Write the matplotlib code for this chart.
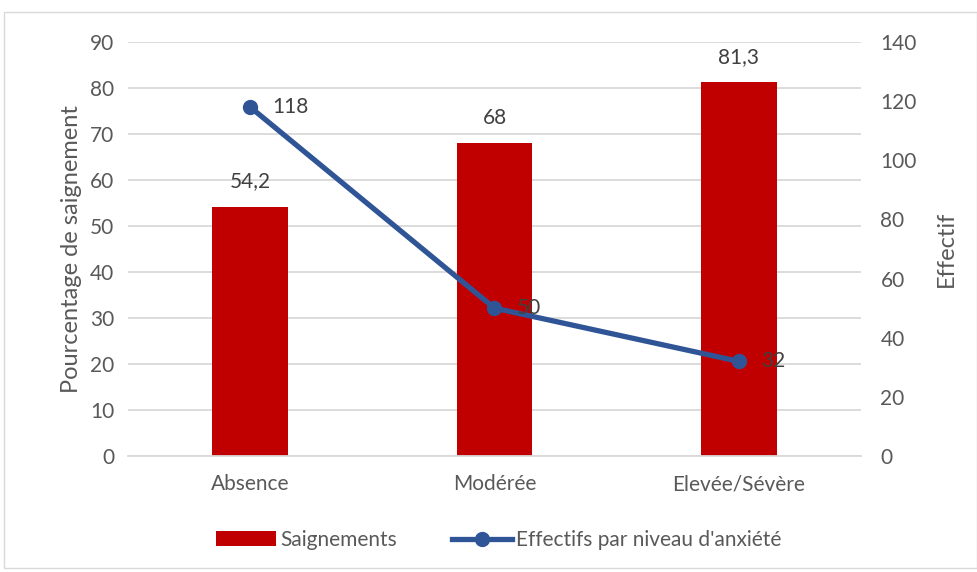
import matplotlib.pyplot as plt
from matplotlib.lines import Line2D
from matplotlib.patches import Patch, Rectangle

categories = ['Absence', 'Modérée', 'Elevée/Sévère']
saignements = [54.2, 68, 81.3]
effectifs = [118, 50, 32]
bar_labels = ['54,2', '68', '81,3']

plt.rcParams['font.family'] = ['Lato', 'DejaVu Sans']
txt = '#595959'
red = '#C00000'
blue = '#2F5597'
fs = 15

fig = plt.figure(figsize=(9.78, 5.72), dpi=100)
ax = fig.add_axes([128/978, 1 - 456/572, 733/978, 414/572])
ax2 = ax.twinx()

x = list(range(len(categories)))
ax.bar(x, saignements, width=0.31, color=red, zorder=2)
for xi, v, lab in zip(x, saignements, bar_labels):
    ax.text(xi, v + 3.3, lab, ha='center', va='bottom', fontsize=fs, color='#404040')

ax.set_xlim(-0.5, 2.5)
ax.set_ylim(0, 90)
ax.set_yticks(range(0, 91, 10))
ax.set_xticks(x)
ax.set_xticklabels(categories)
ax.yaxis.grid(True, color='#D9D9D9', linewidth=1.3, zorder=0)
ax.set_axisbelow(True)
ax.set_ylabel('Pourcentage de saignement', fontsize=17, color=txt, labelpad=6)

ax2.plot(x, effectifs, color=blue, linewidth=3.8, marker='o', markersize=10, zorder=3)
for xi, v in zip(x, effectifs):
    ax2.text(xi + 0.09, v, str(v), ha='left', va='center', fontsize=fs, color='#404040')
ax2.set_ylim(0, 140)
ax2.set_yticks(range(0, 141, 20))
ax2.set_ylabel('Effectif', fontsize=17, color=txt, labelpad=14)

for a in (ax, ax2):
    for s in a.spines.values():
        s.set_visible(False)
    a.tick_params(length=0, labelsize=fs, labelcolor=txt, pad=10)
ax.spines['bottom'].set_visible(True)
ax.spines['bottom'].set_color('#D9D9D9')
ax.spines['bottom'].set_linewidth(1.3)
ax.tick_params(axis='x', pad=13)
ax2.tick_params(pad=14)

handles = [Patch(facecolor=red, label='Saignements'),
           Line2D([0], [0], color=blue, linewidth=3.8, marker='o', markersize=10,
                  label="Effectifs par niveau d'anxiété")]
fig.legend(handles=handles, loc='center', bbox_to_anchor=(0.51, 1 - 540/572), ncol=2,
           frameon=False, fontsize=fs, labelcolor=txt, handlelength=2.9,
           handletextpad=0.2, columnspacing=2.6)

fig.patches.append(Rectangle((4/978, 1 - 568/572), 973/978, 556/572, transform=fig.transFigure,
                             fill=False, edgecolor='#D9D9D9', linewidth=1))

fig.savefig('out.png', dpi=100)
